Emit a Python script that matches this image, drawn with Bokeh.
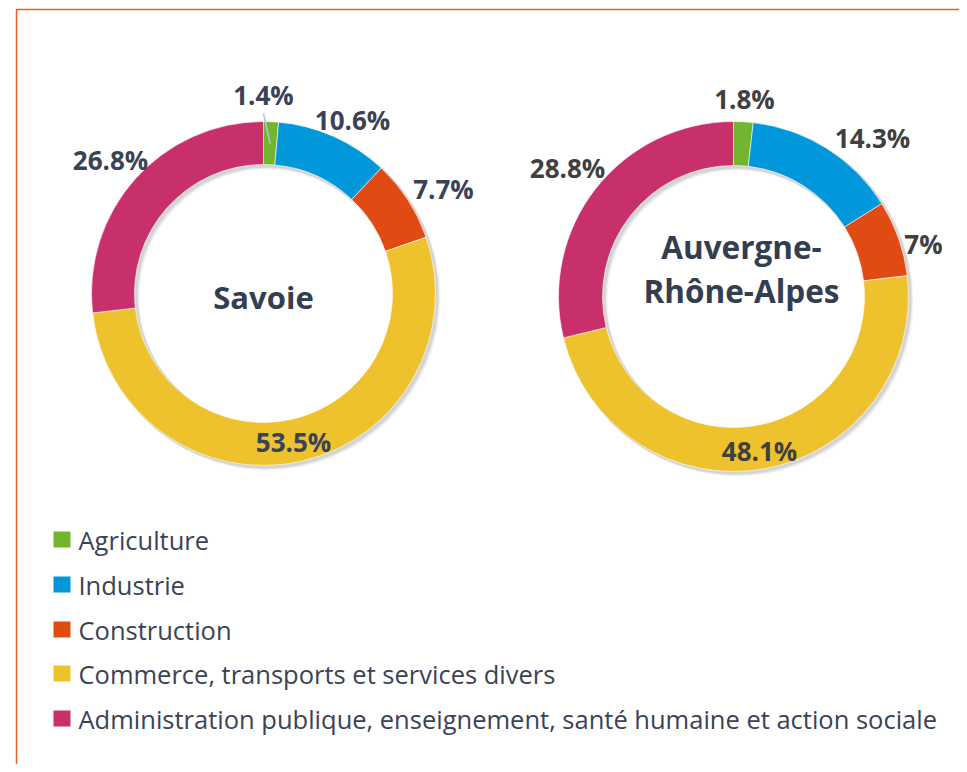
import math
from bokeh.plotting import figure
from bokeh.models import Range1d, ColumnDataSource
from bokeh.core.properties import value
from bokeh.embed import file_html
from bokeh.resources import INLINE

# ---- data ----
categories = ["Agriculture", "Industrie", "Construction",
              "Commerce, transports et services divers",
              "Administration publique, enseignement, santé humaine et action sociale"]
savoie = [1.4, 10.6, 7.7, 53.5, 26.8]
aura = [1.8, 14.3, 7.0, 48.1, 28.8]
savoie_labels = ["1.4%", "10.6%", "7.7%", "53.5%", "26.8%"]
aura_labels = ["1.8%", "14.3%", "7%", "48.1%", "28.8%"]
colors = ["#72b52f", "#0097db", "#e04b14", "#eec22d", "#c8306c"]

# ---- layout (reference pixel coords) ----
W, H = 959, 764
def Y(y):
    return H - y

p = figure(width=W, height=H, x_range=Range1d(0, W), y_range=Range1d(0, H),
           output_backend="svg", toolbar_location=None, min_border=0)
p.axis.visible = False
p.grid.visible = False
p.outline_line_color = None
p.background_fill_color = "white"
p.border_fill_color = "white"

# orange frame (top & left edges)
p.line([16, 16, W], [Y(H), Y(9), Y(9)], line_color="#ec5b26", line_width=1.5)

def donut(vals, cx, cy, R, r, labels, label_pos, label_color):
    total = sum(vals)
    starts, ends = [], []
    acc = 0.0
    for v in vals:
        starts.append(math.pi / 2 - 2 * math.pi * acc / total)
        acc += v
        ends.append(math.pi / 2 - 2 * math.pi * acc / total)
    # soft shadow
    for k, a in [(4, 0.04), (3, 0.06), (2, 0.08)]:
        p.annular_wedge(x=cx + k, y=Y(cy) - k, inner_radius=r - 1, outer_radius=R + 1,
                        start_angle=0, end_angle=2 * math.pi, direction="anticlock",
                        fill_color="black", fill_alpha=a, line_color=None)
    src = ColumnDataSource(dict(start=starts, end=ends, color=colors))
    p.annular_wedge(x=cx, y=Y(cy), inner_radius=r, outer_radius=R,
                    start_angle="start", end_angle="end", direction="clock",
                    fill_color="color", line_color="white", line_width=0.6, source=src)
    lx = [q[0] for q in label_pos]
    ly = [Y(q[1]) for q in label_pos]
    p.text(x=lx, y=ly, text=labels, text_font=value("Open Sans"), text_font_style="bold",
           text_font_size="26px", text_color=label_color, text_align="center",
           text_baseline="middle")
    return starts, ends

s_st, s_en = donut(savoie, 263, 293, 172, 129, savoie_labels,
                   [(263, 94), (352, 119), (443, 188), (293, 441), (110, 159)], "#394256")
# leader line for the small Savoie slice
mid = (s_st[0] + s_en[0]) / 2
p.line([263, 263 + 150 * math.cos(mid)], [Y(113), Y(293) + 150 * math.sin(mid)],
       line_color="#a9c6ea", line_width=1.5)

donut(aura, 733, 296, 175, 131, aura_labels,
      [(744, 98), (872, 137), (923, 243), (759, 450), (567, 167)], "#404040")

# centre titles
p.text(x=[263], y=[Y(296)], text=["Savoie"], text_font=value("Open Sans"),
       text_font_style="bold", text_font_size="31px", text_color="#333e50",
       text_align="center", text_baseline="middle")
p.text(x=[741, 741], y=[Y(246), Y(290)], text=["Auvergne-", "Rhône-Alpes"],
       text_font=value("Open Sans"), text_font_style="bold", text_font_size="31.5px",
       text_color="#333e50", text_align="center", text_baseline="middle")

# legend
leg_y = [539, 584, 629, 673, 718]
p.rect(x=[61.5] * 5, y=[Y(v) for v in leg_y], width=17, height=16,
       fill_color=colors, line_color=None)
p.text(x=[78] * 5, y=[Y(v) for v in leg_y], text=categories,
       text_font=value("Open Sans"), text_font_size="25.5px", text_color="#3a4356",
       text_align="left", text_baseline="middle")

open("out.html", "w").write(file_html(p, INLINE))
